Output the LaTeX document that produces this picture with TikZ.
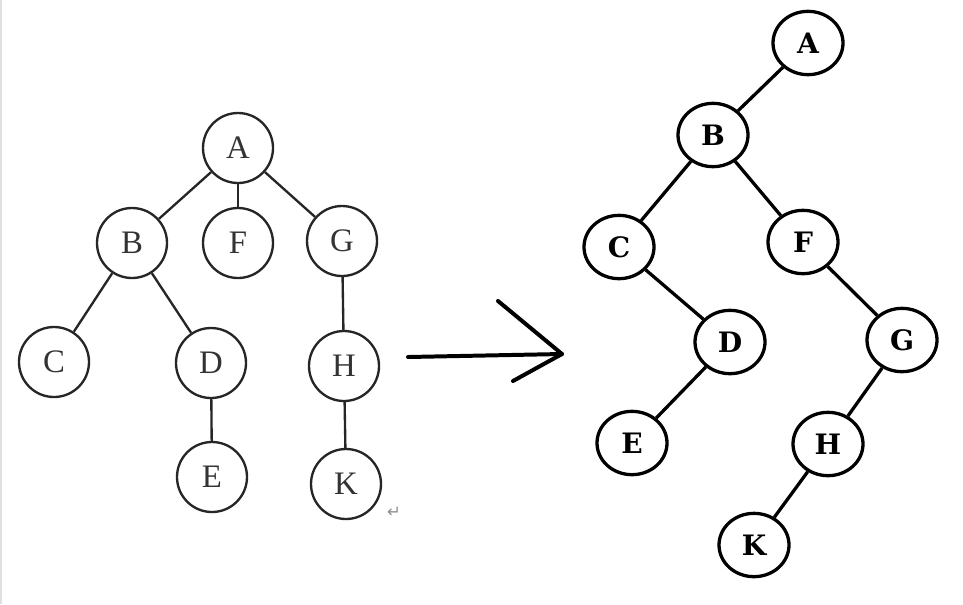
\documentclass[tikz,border=0pt]{standalone}
\usepackage{fontspec}
\setmainfont{Liberation Serif}
\newfontfamily\boldtree{DejaVu Serif}
\newfontfamily\marksym{DejaVu Sans}
\usetikzlibrary{shapes.geometric}

\begin{document}
\begin{tikzpicture}[
    x=0.03cm, y=-0.03cm,
    tnode/.style={
        circle, draw=black!85, line width=2pt, minimum size=2.1cm,
        inner sep=0pt, text=black!80, font=\fontsize{28}{30}\selectfont
    },
    bnode/.style={
        ellipse, draw=black, line width=2.8pt, minimum width=2.1cm,
        minimum height=1.9cm, inner sep=0pt,
        font=\boldtree\bfseries\fontsize{24}{26}\selectfont
    },
    tedge/.style={draw=black!85, line width=2pt},
    bedge/.style={draw=black, line width=2.8pt},
    bigarrow/.style={line width=3.4pt, line cap=round, line join=round}
]
\useasboundingbox (0,0) rectangle (963,604);
\draw[black!12, line width=2pt] (1,0) -- (1,604);

% tree
\node[tnode] (la) at (238,148) {A};
\node[tnode] (lb) at (132,243) {B};
\node[tnode] (lf) at (238,243) {F};
\node[tnode] (lg) at (342,241) {G};
\node[tnode] (lc) at (54,362) {C};
\node[tnode] (ld) at (211,363) {D};
\node[tnode] (lh) at (344,366) {H};
\node[tnode] (le) at (212,477) {E};
\node[tnode] (lk) at (346,484) {K};

\draw[tedge] (la) -- (lb);
\draw[tedge] (la) -- (lf);
\draw[tedge] (la) -- (lg);
\draw[tedge] (lb) -- (lc);
\draw[tedge] (lb) -- (ld);
\draw[tedge] (ld) -- (le);
\draw[tedge] (lg) -- (lh);
\draw[tedge] (lh) -- (lk);

\node[text=black!45, font=\marksym\fontsize{14}{15}\selectfont] (pmark) at (394,512) {↵};

% arrow
\coordinate (arrS) at (408,357);
\coordinate (arrT) at (562,354);
\coordinate (arrU) at (498,301);
\coordinate (arrL) at (513,381);
\draw[bigarrow] (arrS) -- (arrT);
\draw[bigarrow] (arrU) -- (arrT) -- (arrL);

% binary tree
\node[bnode] (ra) at (808,43) {A};
\node[bnode] (rb) at (713,135) {B};
\node[bnode] (rc) at (619,247) {C};
\node[bnode] (rf) at (803,242) {F};
\node[bnode] (rd) at (730,342) {D};
\node[bnode] (rg) at (902,340) {G};
\node[bnode] (re) at (632,443) {E};
\node[bnode] (rh) at (828,444) {H};
\node[bnode] (rk) at (754,545) {K};

\draw[bedge] (ra) -- (rb);
\draw[bedge] (rb) -- (rc);
\draw[bedge] (rb) -- (rf);
\draw[bedge] (rc) -- (rd);
\draw[bedge] (rd) -- (re);
\draw[bedge] (rf) -- (rg);
\draw[bedge] (rg) -- (rh);
\draw[bedge] (rh) -- (rk);

\end{tikzpicture}
\end{document}
